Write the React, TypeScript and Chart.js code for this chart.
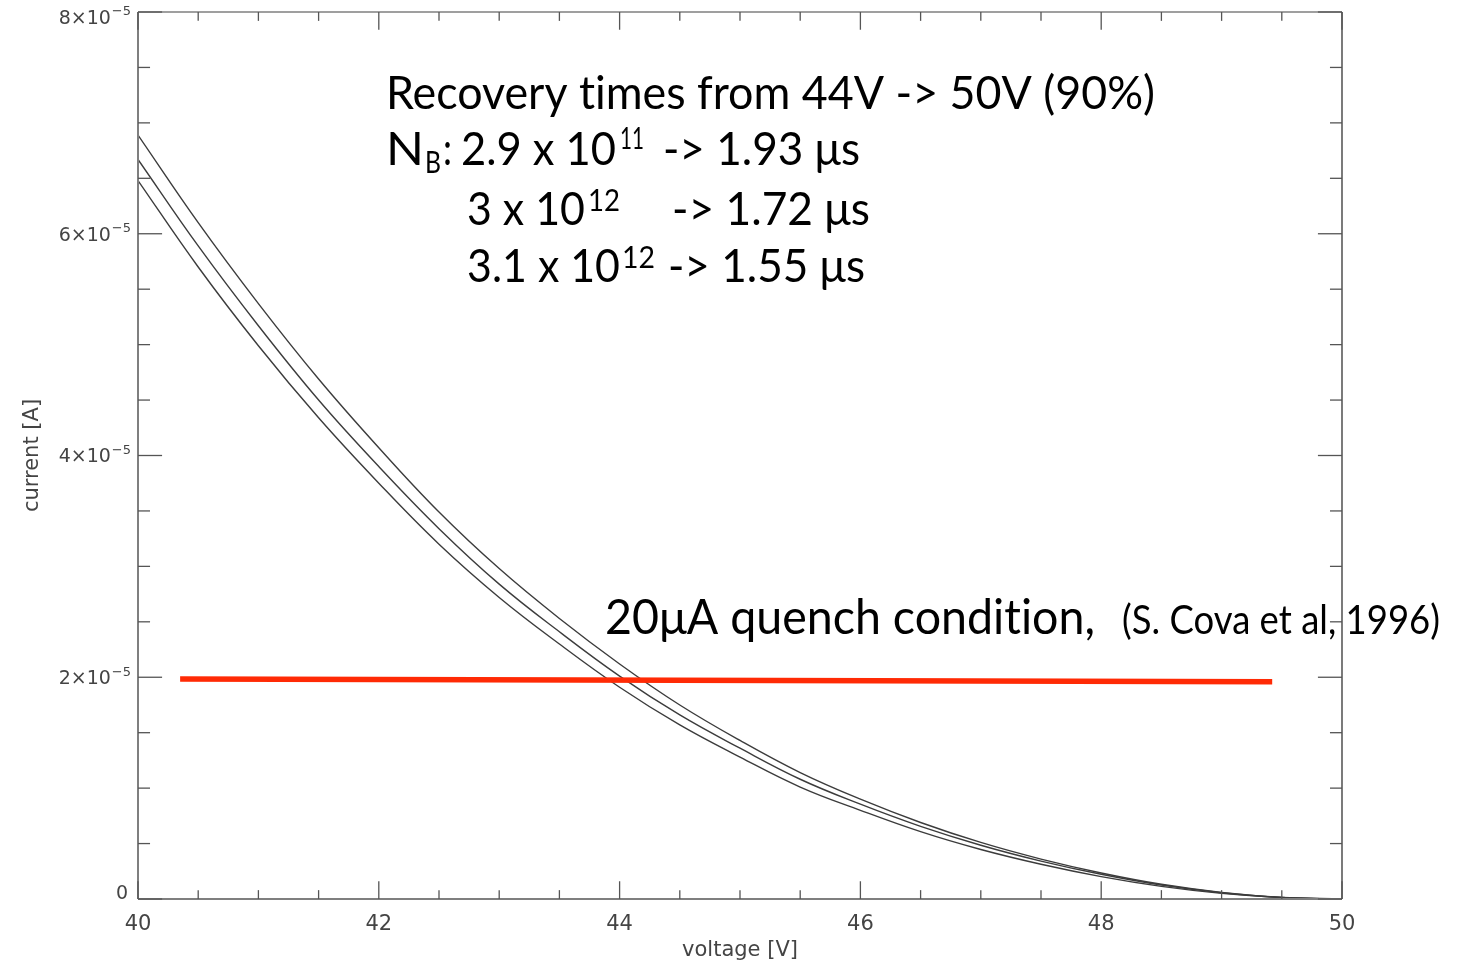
import React, { useEffect, useRef } from "react";
import { Chart, registerables } from "chart.js";

Chart.register(...registerables);

// Bias voltage sweep [V]
const voltage = [40, 40.5, 41, 41.5, 42, 42.5, 43, 43.5, 44, 44.5, 45, 45.5, 46, 46.5, 47, 47.5, 48, 48.5, 49, 49.5, 50];

// Avalanche current [µA] for three base doping levels N_B
const currentNb29e11 = [68.9, 61.0, 53.7, 46.9, 40.7, 34.9, 29.8, 25.3, 21.2, 17.5, 14.3, 11.4, 9.0, 6.9, 5.1, 3.6, 2.35, 1.33, 0.6, 0.15, 0];
const currentNb3e12 = [66.7, 58.9, 51.7, 45.0, 39.0, 33.4, 28.4, 24.1, 20.1, 16.6, 13.6, 10.8, 8.55, 6.55, 4.85, 3.42, 2.23, 1.26, 0.57, 0.14, 0];
const currentNb31e12 = [64.8, 57.0, 49.9, 43.4, 37.5, 32.0, 27.2, 23.0, 19.1, 15.7, 12.8, 10.1, 8.0, 6.07, 4.46, 3.13, 2.02, 1.14, 0.51, 0.13, 0];

// 20 µA quench condition line
const quenchVoltage = [40.35, 49.42];
const quenchCurrent = [19.85, 19.6];

// Axis ranges and labelled ticks
const xMajorTicks = [40, 42, 44, 46, 48, 50];
const yMajorMantissas = [0, 2, 4, 6, 8]; // × 10^-5 A

const UA = 1e-6;
const LABEL_FONT = "'DejaVu Sans', sans-serif";
const NOTE_FONT = "Lato, 'Open Sans', sans-serif";
const ZWNJ = "\u200C"; // keeps "ti" from ligating

const toPoints = (ys: number[], xs: number[]) => xs.map((x, i) => ({ x, y: ys[i] * UA }));

const isMajor = (v: number, step: number) => Math.abs(v / step - Math.round(v / step)) < 1e-6;

type Piece = { text: string; x: number; base: number; width: number; size: number };

// Annotation text pieces, placed in canvas pixels
const notePieces: Piece[] = [
  { text: `Recovery t${ZWNJ}imes from 44V -> 50V (90%)`, x: 386, base: 109, width: 769, size: 46 },
  { text: "N", x: 386, base: 165, width: 38, size: 46 },
  { text: "B", x: 425, base: 173, width: 16, size: 30 },
  { text: ":", x: 443, base: 165, width: 9, size: 46 },
  { text: "2.9 x 10", x: 461, base: 165, width: 155, size: 46 },
  { text: "11", x: 620, base: 149, width: 24, size: 30 },
  { text: "-> 1.93 μs", x: 663, base: 165, width: 197, size: 46 },
  { text: "3 x 10", x: 467, base: 225, width: 118, size: 46 },
  { text: "12", x: 588, base: 211, width: 32, size: 30 },
  { text: "-> 1.72 μs", x: 672, base: 225, width: 198, size: 46 },
  { text: "3.1 x 10", x: 467, base: 282, width: 153, size: 46 },
  { text: "12", x: 622, base: 268, width: 33, size: 30 },
  { text: "-> 1.55 μs", x: 668, base: 282, width: 197, size: 46 },
  { text: `20μA quench condit${ZWNJ}ion,`, x: 605, base: 634, width: 490, size: 48 },
  { text: "(S. Cova et al, 1996)", x: 1122, base: 634, width: 318, size: 40 },
];

function fitText(ctx: CanvasRenderingContext2D, p: Piece) {
  ctx.save();
  ctx.font = `${p.size}px ${NOTE_FONT}`;
  ctx.fillStyle = "#000";
  ctx.textBaseline = "alphabetic";
  ctx.textAlign = "left";
  const w = ctx.measureText(p.text).width;
  ctx.translate(p.x, p.base);
  ctx.scale(p.width / w, 1);
  ctx.fillText(p.text, 0, 0);
  ctx.restore();
}

function seg(ctx: CanvasRenderingContext2D, x1: number, y1: number, x2: number, y2: number) {
  ctx.beginPath();
  ctx.moveTo(x1, y1);
  ctx.lineTo(x2, y2);
  ctx.stroke();
}

const framePlugin = {
  id: "idlFrame",
  beforeDatasetsDraw(chart: any) {
    const ctx: CanvasRenderingContext2D = chart.ctx;
    notePieces.forEach((p) => fitText(ctx, p));
  },
  afterDatasetsDraw(chart: any) {
    const ctx: CanvasRenderingContext2D = chart.ctx;
    const a = chart.chartArea;
    const xs = chart.scales.x;
    const ys = chart.scales.y;
    ctx.save();
    ctx.lineCap = "butt";

    // box
    ctx.strokeStyle = "#7f7f7f";
    ctx.lineWidth = 2;
    seg(ctx, a.left, a.top, a.left, a.bottom);
    seg(ctx, a.left, a.bottom, a.right, a.bottom);
    ctx.lineWidth = 1.5;
    seg(ctx, a.left, a.top, a.right, a.top);
    ctx.strokeStyle = "#222";
    ctx.lineWidth = 1.2;
    seg(ctx, a.right, a.top, a.right, a.bottom);

    // inward tick marks on all four sides
    const xLen = 0.02 * (a.bottom - a.top);
    const yLen = 0.02 * (a.right - a.left);
    ctx.strokeStyle = "#555";
    ctx.lineWidth = 1.3;
    xs.ticks.forEach((t: any) => {
      const px = xs.getPixelForValue(t.value);
      const len = isMajor(t.value, 2) ? xLen : xLen / 2;
      seg(ctx, px, a.bottom, px, a.bottom - len);
      seg(ctx, px, a.top, px, a.top + len);
    });
    ys.ticks.forEach((t: any) => {
      const py = ys.getPixelForValue(t.value);
      const len = isMajor(t.value, 2e-5) ? yLen : yLen / 2;
      seg(ctx, a.left, py, a.left + len, py);
      seg(ctx, a.right, py, a.right - len, py);
    });

    // y tick labels with exponent
    ctx.fillStyle = "#444";
    ctx.textBaseline = "middle";
    const rightEdge = a.left - 7;
    yMajorMantissas.forEach((m) => {
      const py = ys.getPixelForValue(m * 1e-5);
      if (m === 0) {
        ctx.font = `19px ${LABEL_FONT}`;
        ctx.textAlign = "right";
        ctx.fillText("0", rightEdge - 3, py - 5);
        return;
      }
      const cy = Math.max(py + 2, a.top + 7);
      ctx.font = `13px ${LABEL_FONT}`;
      ctx.textAlign = "right";
      const expText = "−5";
      const expW = ctx.measureText(expText).width;
      ctx.fillText(expText, rightEdge, cy - 7);
      ctx.font = `19px ${LABEL_FONT}`;
      ctx.fillText(`${m}×10`, rightEdge - expW - 1, cy);
    });
    ctx.restore();
  },
};

export default function App() {
  const canvasRef = useRef<HTMLCanvasElement | null>(null);

  useEffect(() => {
    const canvas = canvasRef.current;
    if (!canvas) return;
    const curveStyle = {
      borderColor: "#3c3c3c",
      borderWidth: 1.4,
      pointRadius: 0,
      fill: false,
      tension: 0.4,
    };
    const chart = new Chart(canvas, {
      type: "line",
      data: {
        datasets: [
          {
            label: "20 µA quench condition",
            data: toPoints(quenchCurrent, quenchVoltage),
            borderColor: "#ff2a05",
            borderWidth: 5.5,
            pointRadius: 0,
            fill: false,
          },
          { label: "N_B = 2.9×10¹¹", data: toPoints(currentNb29e11, voltage), ...curveStyle },
          { label: "N_B = 3×10¹²", data: toPoints(currentNb3e12, voltage), ...curveStyle },
          { label: "N_B = 3.1×10¹²", data: toPoints(currentNb31e12, voltage), ...curveStyle },
        ],
      },
      options: {
        animation: false,
        responsive: false,
        layout: { padding: { top: 12, right: 116, left: 0, bottom: 0 } },
        plugins: { legend: { display: false }, tooltip: { enabled: false } },
        scales: {
          x: {
            type: "linear",
            min: 40,
            max: 50,
            grid: { display: false, drawTicks: false },
            border: { display: false },
            ticks: {
              stepSize: 0.5,
              autoSkip: false,
              maxRotation: 0,
              padding: 13,
              color: "#444",
              font: { family: LABEL_FONT, size: 21 },
              callback: (v: any) => (xMajorTicks.includes(Number(v)) ? String(v) : ""),
            },
            title: {
              display: true,
              text: "voltage [V]",
              color: "#444",
              font: { family: LABEL_FONT, size: 21 },
              padding: { top: 0, bottom: 0 },
            },
            afterFit: (s: any) => {
              s.height = 64;
            },
          },
          y: {
            type: "linear",
            min: 0,
            max: 8e-5,
            grid: { display: false, drawTicks: false },
            border: { display: false },
            ticks: { display: false, stepSize: 0.5e-5 },
            title: {
              display: true,
              text: "current [A]",
              color: "#444",
              font: { family: LABEL_FONT, size: 21 },
              padding: { top: 20, bottom: 0 },
            },
            afterFit: (s: any) => {
              s.width = 138;
            },
          },
        },
      },
      plugins: [framePlugin],
    });
    return () => chart.destroy();
  }, []);

  return (
    <div style={{ position: "absolute", left: 0, top: 0, width: 1458, height: 963, background: "#fff" }}>
      <canvas ref={canvasRef} width={1458} height={963} style={{ width: 1458, height: 963, display: "block" }} />
    </div>
  );
}
